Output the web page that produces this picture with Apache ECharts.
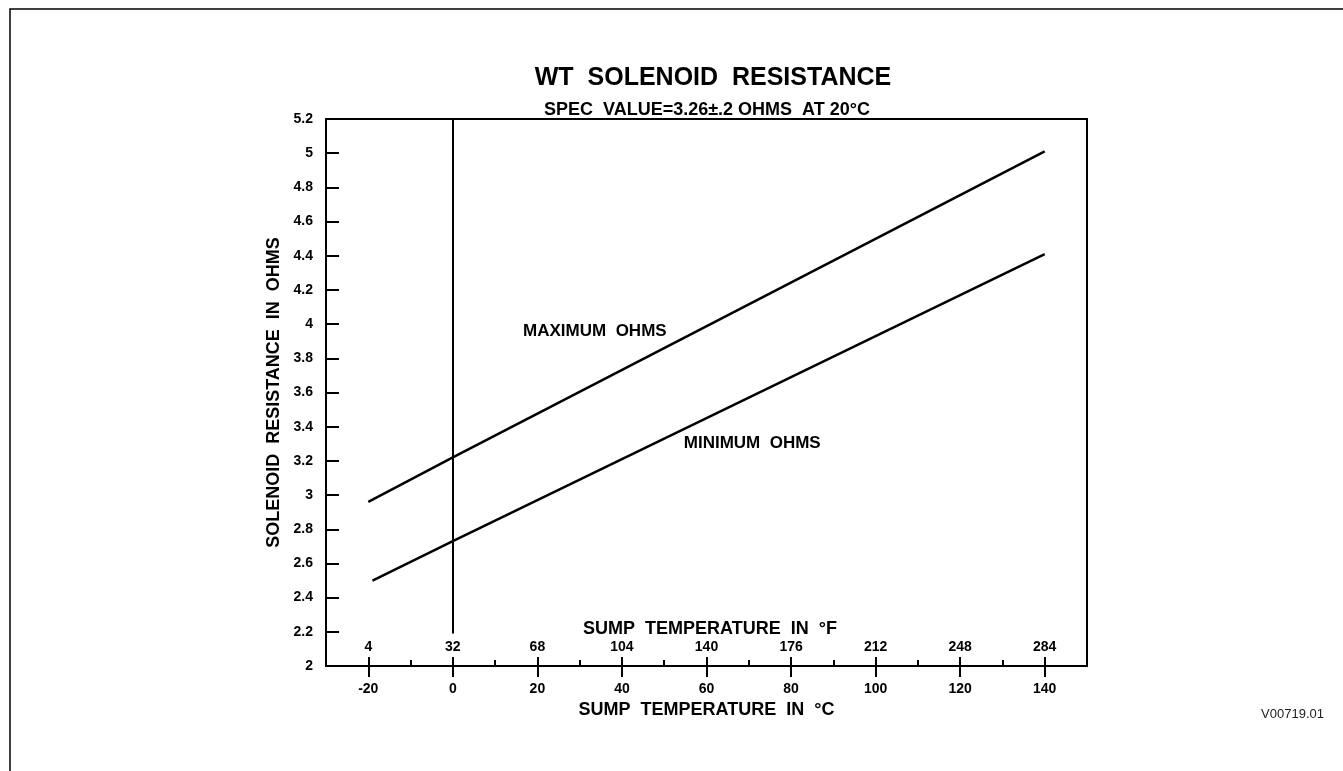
<!DOCTYPE html>
<html>
<head>
<meta charset="utf-8">
<title>WT Solenoid Resistance</title>
<script src="https://cdn.jsdelivr.net/npm/echarts@6/dist/echarts.min.js"></script>
<style>
  html, body { margin: 0; padding: 0; background: #fff; }
  #chart { width: 1343px; height: 771px; }
</style>
</head>
<body>
<div id="chart"></div>
<script>
// x positions along the °C axis (every 10°, labels only on the majors)
const celsiusTicks = [-30, -20, -10, 0, 10, 20, 30, 40, 50, 60, 70, 80, 90, 100, 110, 120, 130, 140, 150]
const majorCelsius = [-20, 0, 20, 40, 60, 80, 100, 120, 140]
const fahrenheitLabels = ['4', '32', '68', '104', '140', '176', '212', '248', '284']

// resistance lines
const maxTemps = [-20, 0, 140]
const maxOhms = [2.96, 3.22, 5.01]
const minTemps = [-19, 0, 140]
const minOhms = [2.50, 2.73, 4.41]

// vertical reference at 0 °C, stops short of the °F labels
const refTemp = 0
const refOhms = [5.2, 2.19]

// line captions
const captionText = ['MAXIMUM  OHMS', 'MINIMUM  OHMS']
const captionTemp = [16.5, 54.5]
const captionOhms = [3.96, 3.30]

const font = '"Liberation Sans Narrow", "Liberation Sans", Arial, sans-serif'
const black = '#000'

const isMajor = v => majorCelsius.indexOf(Number(v)) >= 0
const lastIdx = celsiusTicks.length - 1

const zip = (xs, ys) => xs.map((x, i) => [x, ys[i]])

const chart = echarts.init(document.getElementById('chart'))

const option = {
  animation: false,
  title: [
    {
      text: 'WT  SOLENOID  RESISTANCE',
      left: 708, top: 61, textAlign: 'center',
      textStyle: { fontFamily: font, fontWeight: 'bold', fontSize: 25, color: black }
    },
    {
      text: 'SPEC  VALUE=3.26±.2 OHMS  AT 20°C',
      left: 702, top: 96, textAlign: 'center',
      textStyle: { fontFamily: font, fontWeight: 'bold', fontSize: 18, color: black }
    },
    {
      text: 'SUMP  TEMPERATURE  IN  °F',
      left: 705, top: 615, textAlign: 'center',
      textStyle: { fontFamily: font, fontWeight: 'bold', fontSize: 18, color: black }
    },
    {
      text: 'V00719.01',
      right: 14, top: 703,
      textStyle: { fontFamily: font, fontWeight: 'normal', fontSize: 13, color: '#222' }
    }
  ],
  graphic: [
    {
      type: 'rect',
      shape: { x: 10, y: 9, width: 1500, height: 900 },
      style: { fill: 'none', stroke: black, lineWidth: 1.5 },
      silent: true
    }
  ],
  grid: {
    left: 326, right: 256, top: 119, bottom: 105,
    show: true, borderColor: black, borderWidth: 2
  },
  xAxis: [
    {
      // °C scale: major ticks hanging below, labels below
      type: 'category', data: celsiusTicks, boundaryGap: false, position: 'bottom',
      axisLine: { show: true, onZero: false, lineStyle: { color: black, width: 2 } },
      axisTick: { show: true, inside: false, length: 11, interval: (i, v) => isMajor(v), lineStyle: { color: black, width: 2 } },
      axisLabel: {
        interval: (i, v) => isMajor(v), margin: 16,
        fontFamily: font, fontWeight: 'bold', fontSize: 14, color: black
      },
      splitLine: { show: false },
      name: 'SUMP  TEMPERATURE  IN  °C', nameLocation: 'middle', nameGap: 31,
      nameTextStyle: { fontFamily: font, fontWeight: 'bold', fontSize: 18, color: black }
    },
    {
      // °F scale: minor ticks above, °F labels above
      type: 'category', data: celsiusTicks, boundaryGap: false, position: 'bottom',
      axisLine: { show: false, onZero: false },
      axisTick: { show: true, inside: true, length: 6, interval: (i, v) => !isMajor(v) && i > 0 && i < lastIdx, lineStyle: { color: black, width: 2 } },
      axisLabel: {
        inside: true, interval: (i, v) => isMajor(v), margin: 12,
        formatter: v => fahrenheitLabels[majorCelsius.indexOf(Number(v))] || '',
        fontFamily: font, fontWeight: 'bold', fontSize: 14, color: black
      },
      splitLine: { show: false }
    },
    {
      // major ticks poking up through the axis
      type: 'category', data: celsiusTicks, boundaryGap: false, position: 'bottom',
      axisLine: { show: false, onZero: false },
      axisTick: { show: true, inside: true, length: 9, interval: (i, v) => isMajor(v), lineStyle: { color: black, width: 2 } },
      axisLabel: { show: false },
      splitLine: { show: false }
    },
    {
      // data axis
      type: 'value', min: -30, max: 150, show: false
    }
  ],
  yAxis: {
    type: 'value', min: 2, max: 5.2, interval: 0.2,
    axisLine: { show: true, onZero: false, lineStyle: { color: black, width: 2 } },
    axisTick: { show: true, inside: true, length: 13, lineStyle: { color: black, width: 2 } },
    axisLabel: { margin: 13, fontFamily: font, fontWeight: 'bold', fontSize: 14, color: black },
    splitLine: { show: false },
    name: 'SOLENOID  RESISTANCE  IN  OHMS', nameLocation: 'middle', nameRotate: 90, nameGap: 42,
    nameTextStyle: { fontFamily: font, fontWeight: 'bold', fontSize: 18, color: black }
  },
  series: [
    {
      name: 'max', type: 'line', xAxisIndex: 3,
      data: zip(maxTemps, maxOhms),
      symbol: 'none',
      lineStyle: { color: black, width: 2.5 },
      markLine: {
        silent: true, symbol: ['none', 'none'],
        label: { show: false },
        lineStyle: { color: black, width: 2, type: 'solid' },
        data: [[{ coord: [refTemp, refOhms[0]] }, { coord: [refTemp, refOhms[1]] }]]
      }
    },
    {
      name: 'min', type: 'line', xAxisIndex: 3,
      data: zip(minTemps, minOhms),
      symbol: 'none',
      lineStyle: { color: black, width: 2.5 }
    },
    {
      name: 'captions', type: 'scatter', xAxisIndex: 3,
      data: captionText.map((t, i) => ({ value: [captionTemp[i], captionOhms[i]], name: t })),
      symbolSize: 1,
      itemStyle: { opacity: 0 },
      label: {
        show: true, position: 'right', distance: 0,
        formatter: p => p.name,
        fontFamily: font, fontWeight: 'bold', fontSize: 17, color: '#000', opacity: 1
      },
      silent: true
    }
  ]
}

chart.setOption(option)
</script>
</body>
</html>
